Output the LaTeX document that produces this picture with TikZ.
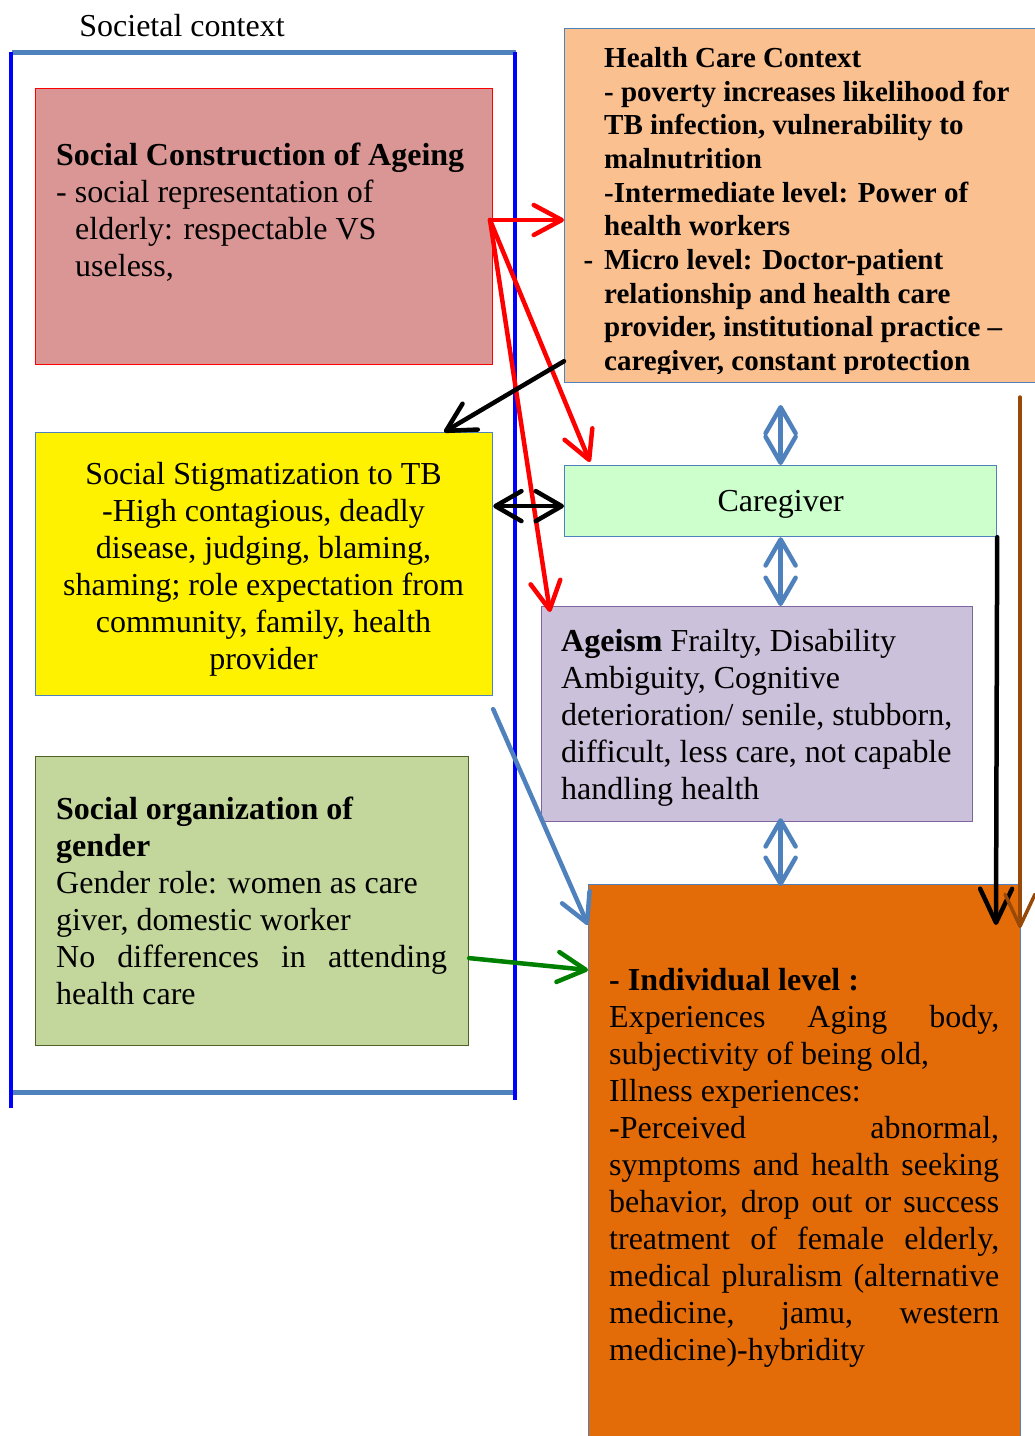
\documentclass[tikz,border=0pt]{standalone}
\usepackage{fontspec}
\setmainfont{Liberation Serif}
\usetikzlibrary{arrows.meta,calc}
\definecolor{steel}{HTML}{4F81BD}
\definecolor{scfill}{HTML}{D99694}
\definecolor{hcfill}{HTML}{FAC090}
\definecolor{cgfill}{HTML}{CCFFCC}
\definecolor{agfill}{HTML}{CCC1DA}
\definecolor{agdraw}{HTML}{8064A2}
\definecolor{gdfill}{HTML}{C3D69B}
\definecolor{gddraw}{HTML}{4F6228}
\definecolor{ivfill}{HTML}{E36C09}
\definecolor{brownarr}{HTML}{984807}
\definecolor{greenarr}{HTML}{008000}
\begin{document}
\begin{tikzpicture}[x=1pt,y=-1pt]
\tikzset{
  box/.style={inner sep=0pt, anchor=north west, line width=1.2pt},
  txt/.style={inner sep=0pt, anchor=north west, align=left, font=\fontsize{32}{37}\selectfont},
  arr/.style={line width=4.5pt, line cap=round},
  tip/.style={-{Straight Barb[length=28pt,width=30pt,round]}},
  dtip/.style={{Straight Barb[length=26pt,width=30pt,round]}-{Straight Barb[length=26pt,width=30pt,round]}},
}
\useasboundingbox (0,0) rectangle (1035,1436);
\fill[white] (0,0) rectangle (1035,1436);

% Societal context frame
\node[font=\fontsize{32}{37}\selectfont, inner sep=0pt] (soc) at (182,26) {Societal context};
\coordinate (f1) at (12,52);
\coordinate (f2) at (516,52);
\coordinate (f3) at (12,1092);
\coordinate (f4) at (516,1092);
\draw[steel, line width=5pt] (f1) -- (f2);
\draw[steel, line width=5pt] (f3) -- (f4);
\draw[blue, line width=4.5pt] (11,52) -- (11,1108);
\draw[blue, line width=4.5pt] (515,52) -- (515,1100);

% Boxes
\node[box, fill=scfill, draw=red, minimum width=457pt, minimum height=276pt] (sc) at (35,88) {};
\node[box, fill=hcfill, draw=steel, minimum width=473pt, minimum height=354pt] (hc) at (564,28) {};
\node[box, fill=yellow, draw=steel, minimum width=457pt, minimum height=263pt] (st) at (35,432) {};
\node[box, fill=cgfill, draw=steel, minimum width=432pt, minimum height=71pt] (cg) at (564,465) {};
\node[box, fill=agfill, draw=agdraw, minimum width=431pt, minimum height=215pt] (ag) at (541,606) {};
\node[box, fill=gdfill, draw=gddraw, minimum width=433pt, minimum height=289pt] (gd) at (35,756) {};
\node[box, fill=ivfill, draw=steel, minimum width=432pt, minimum height=570pt] (iv) at (588,884) {};

% Texts
\node[txt] (sct) at (56,143) {\textbf{Social Construction of Ageing}\\- social representation of\\\hspace*{19pt}elderly: respectable VS\\\hspace*{19pt}useless,};

\begin{scope}
\clip (564,28) rectangle (1035,373);
\node[txt, font=\fontsize{29}{33.7}\selectfont\bfseries] (hct) at (604,47) {Health Care Context\\- poverty increases likelihood for\\TB infection, vulnerability to\\malnutrition\\-Intermediate level: Power of\\health workers\\\llap{-\hspace{11pt}}Micro level: Doctor-patient\\relationship and health care\\provider, institutional practice --\\caregiver, constant protection};
\end{scope}

\node[txt, align=center, anchor=north] (stt) at (263.5,462) {Social Stigmatization to TB\\-High contagious, deadly\\disease, judging, blaming,\\shaming; role expectation from\\community, family, health\\provider};

\node[font=\fontsize{32}{37}\selectfont, inner sep=0pt] (cgt) at ($(cg.center)+(0,3)$) {Caregiver};

\node[txt] (agt) at (561,629) {\textbf{Ageism} Frailty, Disability\\Ambiguity, Cognitive\\deterioration/ senile, stubborn,\\difficult, less care, not capable\\handling health};

\node[txt] (gdt) at (56,797) {\textbf{Social organization of}\\\textbf{gender}\\Gender role: women as care\\giver, domestic worker\\\makebox[391pt][s]{No differences in attending}\\health care};

\node[txt] (ivt) at (609,968) {\textbf{- Individual level :}\\\makebox[390pt][s]{Experiences Aging body,}\\subjectivity of being old,\\Illness experiences:\\\makebox[390pt][s]{-Perceived abnormal,}\\\makebox[390pt][s]{symptoms and health seeking}\\\makebox[390pt][s]{behavior, drop out or success}\\\makebox[390pt][s]{treatment of female elderly,}\\\makebox[390pt][s]{medical pluralism (alternative}\\\makebox[390pt][s]{medicine, jamu, western}\\medicine)-hybridity};

% Arrows
\coordinate (r0) at (490,220);
\draw[arr, tip, red] (r0) -- (r0 -| hc.west);
\draw[arr, tip, red] (r0) -- ([xshift=26pt,yshift=3pt]cg.north west);
\draw[arr, tip, red] (r0) -- ([xshift=9pt,yshift=-6pt]ag.north west);

\draw[arr, tip, black] ([yshift=22pt]hc.south west) -- ([xshift=180pt]st.north);
\draw[arr, dtip, black] ([yshift=-5pt]cg.west -| st.east) -- ([yshift=-5pt]cg.west);

\draw[arr, dtip, steel] ($(cg.north)+(0,-60)$) -- (cg.north);
\draw[arr, dtip, steel] (cg.south) -- (cg.south |- ag.north);
\draw[arr, dtip, steel] ($(cg.south |- ag.south)+(0,-4)$) -- ($(cg.south |- iv.north)+(0,2)$);

\coordinate (bk) at (996,925);
\draw[arr, black, -{Straight Barb[length=34pt,width=32pt,round]}] (cg.south east) -- (bk);
\coordinate (br0) at (1020,397);
\coordinate (br1) at (1020,928);
\draw[line width=3.5pt, line cap=round, brownarr, -{Straight Barb[length=32pt,width=30pt,round]}] (br0) -- (br1);

\draw[arr, steel, tip] ([yshift=-13pt]st.south east) -- ([yshift=-41pt]iv.north west);
\draw[arr, greenarr, tip] ([yshift=-57pt]gd.east) -- ([yshift=-86pt]iv.north west);
\end{tikzpicture}
\end{document}
